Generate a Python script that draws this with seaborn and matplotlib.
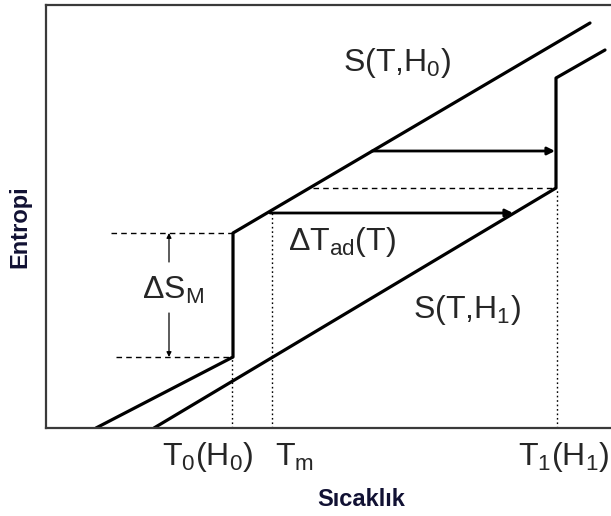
import matplotlib
matplotlib.use("Agg")
import matplotlib.pyplot as plt
import seaborn as sns
import pandas as pd

sns.set_theme(style="white")
plt.rcParams["font.family"] = ["Liberation Sans", "DejaVu Sans"]
plt.rcParams["mathtext.fontset"] = "custom"
plt.rcParams["mathtext.rm"] = "Liberation Sans"
plt.rcParams["mathtext.it"] = "Liberation Sans"

# Entropy curves (temperature, entropy) in arbitrary units
t_h0 = [50, 187, 187, 544]
s_h0 = [0, 71, 195, 405]
t_h1 = [108, 510, 510, 559]
s_h1 = [0, 240, 350, 378]

# Characteristic temperatures and entropy levels
T0, Tm, T1 = 186, 226, 511
S_low, S_high, S_t1 = 71, 195, 240
S_tm = 215           # entropy on S(T,H0) at Tm
dTad_upper = (326, 509, 277)   # start T, end T, S
dTad_lower = (224, 467, 215)

curve_labels = ["S(T,H$_0$)", "S(T,H$_1$)"]
tick_labels = ["T$_0$(H$_0$)", "T$_m$", "T$_1$(H$_1$)"]
tick_pos = [116, 229, 472]

fig = plt.figure(figsize=(6.11, 5.16), dpi=100)
ax = fig.add_axes([46 / 611, 88 / 516, 1 - 46 / 611, (428 - 5) / 516])

df = pd.concat([
    pd.DataFrame({"T": t_h0, "S": s_h0, "H": "H0"}),
    pd.DataFrame({"T": t_h1, "S": s_h1, "H": "H1"}),
])
sns.lineplot(data=df, x="T", y="S", units="H", estimator=None, sort=False,
             color="black", lw=2.3, ax=ax, legend=False)

# Horizontal dashed guides
dash = dict(color="black", lw=1.0, ls=(0, (4, 3)))
ax.plot([65, 187], [S_high, S_high], **dash)
ax.plot([70, 187], [S_low, S_low], **dash)
ax.plot([267, 510], [S_t1, S_t1], **dash)

# Vertical dotted guides
dot = dict(color="black", lw=1.0, ls=(0, (1.2, 2)))
ax.plot([T0, T0], [0, S_low], **dot)
ax.plot([Tm, Tm], [0, S_tm], **dot)
ax.plot([T1, T1], [0, S_t1], **dot)

# Adiabatic temperature change arrows
for t0, t1, s in (dTad_upper, dTad_lower):
    ax.annotate("", xy=(t1, s), xytext=(t0, s),
                arrowprops=dict(arrowstyle="-|>", color="black", lw=2.0,
                                mutation_scale=11, shrinkA=0, shrinkB=0))

# Magnetic entropy change arrows
x_ds = 123
ax.annotate("", xy=(x_ds, S_high), xytext=(x_ds, 166),
            arrowprops=dict(arrowstyle="-|>", color="black", lw=0.9,
                            mutation_scale=7, shrinkA=0, shrinkB=0))
ax.annotate("", xy=(x_ds, S_low), xytext=(x_ds, 115),
            arrowprops=dict(arrowstyle="-|>", color="black", lw=0.9,
                            mutation_scale=7, shrinkA=0, shrinkB=0))

fs = 23
ax.text(x_ds + 4, 138, r"$\mathregular{\Delta S_M}$", fontsize=fs,
        ha="center", va="center")
ax.text(242, 186, r"$\mathregular{\Delta T_{ad}(T)}$", fontsize=fs,
        ha="left", va="center")
ax.text(297, 365, curve_labels[0], fontsize=fs, ha="left", va="center")
ax.text(367, 118, curve_labels[1], fontsize=fs, ha="left", va="center")

for pos, lab in zip(tick_pos, tick_labels):
    ax.text(pos, -29, lab, fontsize=fs, ha="left", va="center")

ax.set_xlim(0, 565)
ax.set_ylim(0, 423)
ax.set_xticks([])
ax.set_yticks([])

# Axis titles
ax.set_xlabel("Sıcaklık", fontsize=17, fontweight="bold", color="#111133")
ax.xaxis.set_label_coords((361 - 46) / 565, -(500 - 428) / 423)
ax.set_ylabel("Entropi", fontsize=17, fontweight="bold", color="#111133")
ax.yaxis.set_label_coords(-(46 - 20) / 565, (428 - 227) / 423)
ax.xaxis.label.set_va("center")
ax.yaxis.label.set_va("center")

for side in ("left", "top", "bottom"):
    ax.spines[side].set_visible(True)
    ax.spines[side].set_color("#3a3a3a")
    ax.spines[side].set_linewidth(1.6)
ax.spines["right"].set_visible(False)

fig.savefig("out.png", dpi=100)
